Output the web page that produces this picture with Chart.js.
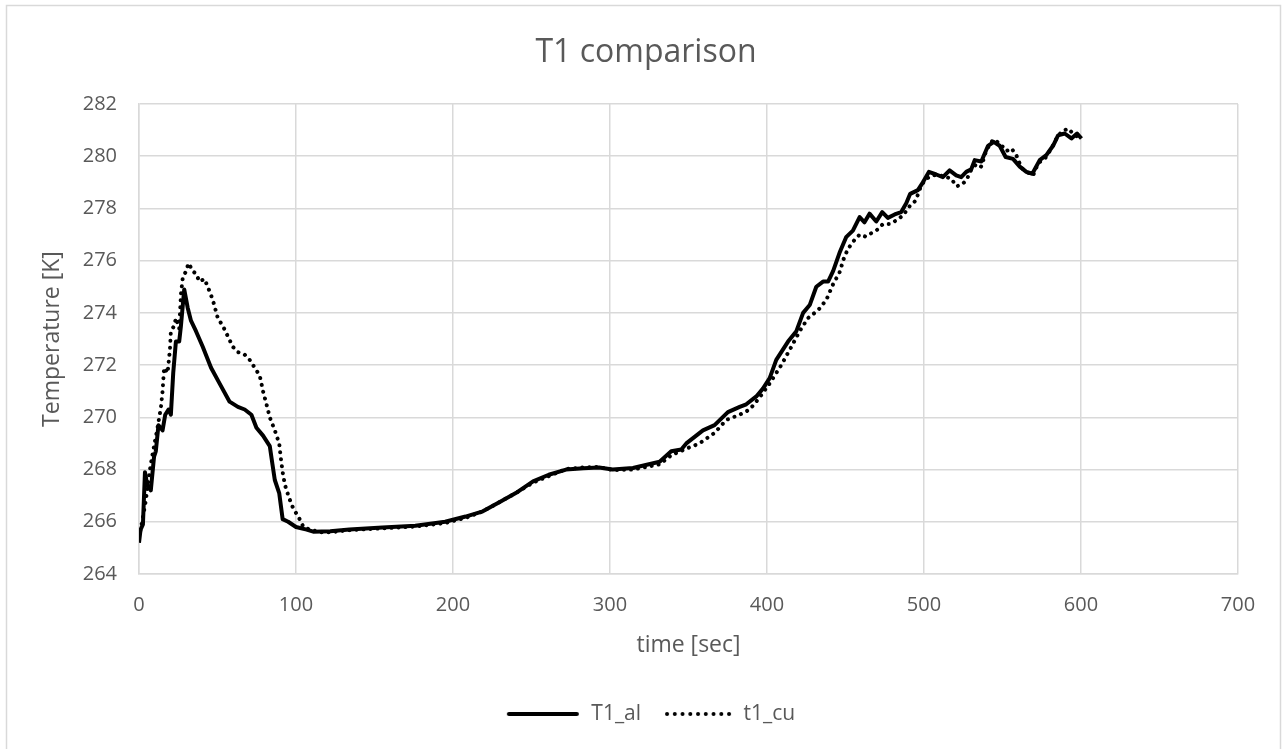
<!DOCTYPE html>
<html lang="en">

<head>
    <meta charset="UTF-8">
    <title>T1 comparison</title>
    <style>
        html, body {
            margin: 0;
            padding: 0;
            background: #ffffff;
        }

        #chartContainer {
            width: 1284px;
            height: 749px;
        }
    </style>
    <script src="https://cdn.jsdelivr.net/npm/chart.js"></script>
</head>

<body>
    <div id="chartContainer">
        <canvas id="chart1" width="1284" height="749"></canvas>
    </div>

    <script>
        // T1_al readings: time [sec] and temperature [K]
        const alTime = [0, 1, 2.5, 3.8, 5.3, 7.5, 9.6, 10.7, 12.4, 15, 16.7, 18.8, 20.3, 21.8, 23.5, 25.6, 26.7, 28.8,
            31, 33.1, 36.3, 40.6, 45.9, 51.3, 57.7, 63, 67.3, 71.6, 74.8, 79, 83.3, 85, 86.5, 89.3, 91.5, 95, 100,
            106.8, 111, 121.8, 134, 155, 176, 195, 208, 219, 229.5, 240, 251, 261, 272, 283, 293, 301.7, 314.6,
            331.6, 339, 345.4, 348.6, 359.2, 366.6, 375.1, 382.6, 386.8, 393.2, 397.4, 401.7, 405.9, 413.4, 418.7,
            423, 427.2, 431.4, 435.7, 438.9, 442.1, 446.2, 450.4, 454.7, 459, 462.1, 465.3, 469.6, 473.4, 477,
            481.3, 485.5, 488.7, 491.2, 496.1, 499.3, 503.1, 507.8, 512, 516.3, 520.5, 523.7, 526.9, 530.1, 532.3,
            536.5, 540.8, 544.4, 548.2, 552, 556.7, 561, 565.2, 569, 573.7, 577.9, 582.2, 585.4, 589.6, 593.9,
            597.5, 600.3];
        const alTemp = [265.2, 265.7, 265.9, 267.9, 267.4, 267.2, 268.5, 268.7, 269.7, 269.5, 270.1, 270.3, 270.1,
            271.7, 272.9, 272.9, 273.5, 274.9, 274.2, 273.7, 273.3, 272.7, 271.9, 271.3, 270.6, 270.4, 270.3, 270.1,
            269.6, 269.3, 268.9, 268.2, 267.6, 267.1, 266.1, 266.0, 265.8, 265.7, 265.62, 265.64, 265.7, 265.78,
            265.85, 266.0, 266.2, 266.4, 266.75, 267.1, 267.55, 267.8, 268.0, 268.05, 268.08, 268.0, 268.06, 268.3,
            268.7, 268.77, 269.0, 269.5, 269.7, 270.2, 270.4, 270.5, 270.8, 271.1, 271.5, 272.2, 272.9, 273.3,
            274.0, 274.3, 275.0, 275.2, 275.2, 275.6, 276.3, 276.9, 277.15, 277.67, 277.47, 277.8, 277.5, 277.86,
            277.64, 277.77, 277.86, 278.2, 278.56, 278.7, 279.0, 279.4, 279.3, 279.2, 279.46, 279.27, 279.2, 279.4,
            279.5, 279.85, 279.8, 280.4, 280.55, 280.4, 279.97, 279.9, 279.6, 279.4, 279.33, 279.85, 280.04, 280.4,
            280.8, 280.87, 280.68, 280.87, 280.68];

        // t1_cu readings: time [sec] and temperature [K]
        const cuTime = [0, 2, 4.3, 6, 7.5, 9.6, 11.8, 14, 15, 16, 18.2, 19.7, 20.3, 22.4, 23.5, 25.6, 26.7, 27.8,
            29.9, 31.6, 34.2, 36.3, 38.5, 41.7, 43.8, 47, 50.2, 53.4, 56.6, 59.8, 63, 67.3, 70.5, 73.7, 76.9, 79,
            81.2, 83.3, 86.5, 89.3, 90.2, 91.5, 93, 95.7, 98.3, 101.5, 104.7, 109, 115.4, 121.8, 134, 155, 176, 195,
            208, 219, 229.5, 240, 251, 261, 272, 283, 293, 301.7, 314.6, 331.6, 339, 348.6, 357, 366.6, 374, 382.6,
            389, 395.3, 401.7, 409.1, 415.5, 420.8, 426.1, 432.5, 437.8, 442.1, 446.2, 448.8, 451.5, 455.8, 459,
            462.8, 466.4, 470.7, 473.8, 478.1, 482.3, 486.6, 490.8, 494.7, 498.3, 501.5, 505.7, 510, 514.2, 517.4,
            520.6, 523.8, 527, 530.2, 533.4, 536.5, 539.7, 544, 548.2, 552.5, 555.7, 558.8, 562, 565.2, 569.5,
            572.7, 576.9, 581.2, 584.4, 587.6, 591.8, 596.1, 600.3];
        const cuTemp = [265.4, 266.0, 266.8, 267.6, 268.2, 268.9, 269.6, 270.4, 271.0, 271.9, 271.7, 272.6, 273.3,
            273.5, 273.8, 273.4, 274.7, 275.3, 275.6, 275.9, 275.6, 275.5, 275.2, 275.3, 275.0, 274.5, 273.8, 273.5,
            273.1, 272.7, 272.5, 272.4, 272.2, 271.9, 271.6, 271.0, 270.5, 270.0, 269.5, 269.0, 268.5, 267.9, 267.4,
            266.9, 266.5, 266.2, 265.8, 265.7, 265.6, 265.6, 265.68, 265.75, 265.82, 265.95, 266.15, 266.4, 266.75,
            267.1, 267.5, 267.75, 268.02, 268.08, 268.1, 267.98, 268.0, 268.2, 268.55, 268.8, 269.0, 269.4, 269.9,
            270.1, 270.3, 270.76, 271.3, 272.0, 272.7, 273.3, 273.8, 274.1, 274.5, 275.1, 275.55, 276.06, 276.45,
            276.8, 277.0, 276.92, 277.05, 277.2, 277.4, 277.4, 277.54, 277.73, 278.08, 278.3, 278.9, 279.14,
            279.27, 279.27, 279.2, 279.14, 278.85, 278.9, 279.08, 279.5, 279.7, 279.6, 280.23, 280.64, 280.5,
            280.2, 280.3, 280.04, 279.56, 279.4, 279.27, 279.74, 279.9, 280.3, 280.68, 280.94, 281.06, 280.8,
            280.68];

        const xTicks = [0, 100, 200, 300, 400, 500, 600, 700];
        const yTicks = [264, 266, 268, 270, 272, 274, 276, 278, 280, 282];

        const textColor = '#595959';
        const gridColor = '#d9d9d9';
        const fontFamily = '"Open Sans", sans-serif';

        function toPoints(xs, ys) {
            return xs.map((x, i) => ({ x: x, y: ys[i] }));
        }

        // Legend samples: a short solid stroke and a row of round dots
        function legendSample(dotted) {
            const c = document.createElement('canvas');
            c.width = 86;
            c.height = 8;
            const g = c.getContext('2d');
            g.fillStyle = '#000000';
            g.strokeStyle = '#000000';
            if (dotted) {
                for (let i = 0; i < 9; i++) {
                    g.beginPath();
                    g.arc(20 + i * 7.75, 4, 2, 0, Math.PI * 2);
                    g.fill();
                }
            } else {
                g.lineWidth = 4;
                g.lineCap = 'round';
                g.beginPath();
                g.moveTo(14, 4);
                g.lineTo(82, 4);
                g.stroke();
            }
            return c;
        }

        // White background and thin outer frame
        const frame = {
            id: 'frame',
            beforeDraw(chart) {
                const ctx = chart.ctx;
                ctx.save();
                ctx.fillStyle = '#ffffff';
                ctx.fillRect(0, 0, chart.width, chart.height);
                ctx.strokeStyle = gridColor;
                ctx.lineWidth = 1.5;
                ctx.strokeRect(6.5, 5.5, chart.width - 10, chart.height + 10);
                ctx.restore();
            }
        };

        // Title and legend sit on the page centre rather than the padded box centre
        const centreShift = {
            id: 'centreShift',
            afterLayout(chart) {
                chart.titleBlock.left += 27;
                chart.titleBlock.right += 27;
                chart.legend.left += 26;
                chart.legend.right += 26;
            }
        };

        const ctx = document.getElementById('chart1').getContext('2d');
        const chart1 = new Chart(ctx, {
            type: 'line',
            data: {
                datasets: [{
                    label: 'T1_al',
                    data: toPoints(alTime, alTemp),
                    borderColor: '#000000',
                    backgroundColor: '#000000',
                    borderWidth: 4,
                    borderJoinStyle: 'round',
                    pointRadius: 0,
                    pointStyle: legendSample(false),
                    tension: 0,
                    fill: false
                }, {
                    label: 't1_cu',
                    data: toPoints(cuTime, cuTemp),
                    borderColor: '#000000',
                    backgroundColor: '#000000',
                    borderWidth: 4,
                    borderDash: [0.01, 7],
                    borderCapStyle: 'round',
                    pointRadius: 0,
                    pointStyle: legendSample(true),
                    tension: 0,
                    fill: false
                }]
            },
            options: {
                responsive: false,
                animation: false,
                layout: {
                    padding: { left: 0, right: 46, top: 0, bottom: 14.5 }
                },
                plugins: {
                    title: {
                        display: true,
                        text: 'T1 comparison',
                        color: textColor,
                        font: { family: fontFamily, size: 32, weight: 'normal' },
                        padding: { top: 34, bottom: 31.6 }
                    },
                    legend: {
                        position: 'bottom',
                        labels: {
                            color: textColor,
                            font: { family: fontFamily, size: 21 },
                            usePointStyle: true,
                            pointStyleWidth: 86,
                            padding: 6
                        }
                    },
                    tooltip: { enabled: false }
                },
                scales: {
                    x: {
                        type: 'linear',
                        min: 0,
                        max: 700,
                        afterBuildTicks(axis) {
                            axis.ticks = xTicks.map(v => ({ value: v }));
                        },
                        afterFit(axis) {
                            axis.height = 123.5;
                        },
                        grid: { color: gridColor, lineWidth: 1.5, drawTicks: false },
                        border: { color: gridColor, width: 1.5 },
                        ticks: {
                            color: textColor,
                            font: { family: fontFamily, size: 20 },
                            padding: 19,
                            maxRotation: 0
                        },
                        title: {
                            display: true,
                            text: 'time [sec]',
                            color: textColor,
                            font: { family: fontFamily, size: 23 },
                            padding: { top: 0, bottom: 38.5 }
                        }
                    },
                    y: {
                        type: 'linear',
                        min: 264,
                        max: 282,
                        afterBuildTicks(axis) {
                            axis.ticks = yTicks.map(v => ({ value: v }));
                        },
                        afterFit(axis) {
                            axis.width = 139;
                        },
                        grid: { color: gridColor, lineWidth: 1.5, drawTicks: false },
                        border: { color: gridColor, width: 1.5 },
                        ticks: {
                            color: textColor,
                            font: { family: fontFamily, size: 20 },
                            padding: 22
                        },
                        title: {
                            display: true,
                            text: 'Temperature [K]',
                            color: textColor,
                            font: { family: fontFamily, size: 23 },
                            padding: { top: 39, bottom: 0 }
                        }
                    }
                }
            },
            plugins: [frame, centreShift]
        });
    </script>
</body>

</html>
